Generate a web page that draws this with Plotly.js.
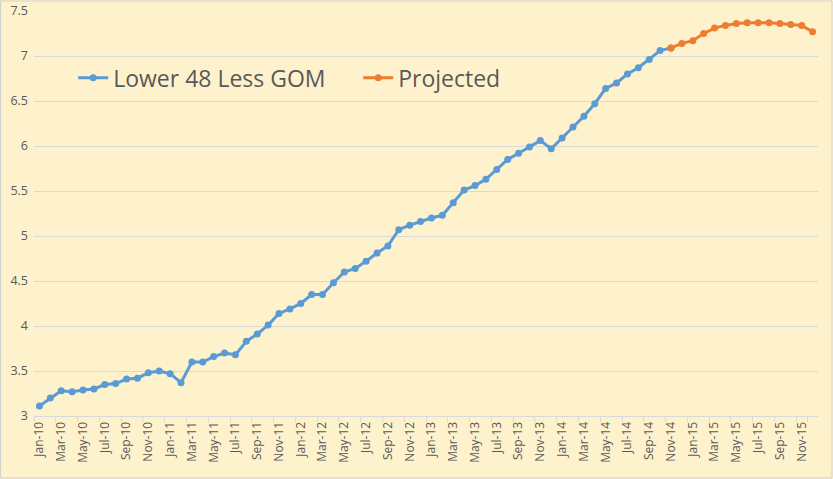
<!DOCTYPE html>
<html>
<head>
<meta charset="utf-8">
<script src="https://cdn.plot.ly/plotly-3.0.1.min.js"></script>
<style>
  body { margin: 0; background: #fef2cc; }
  #chart { width: 833px; height: 479px; }
</style>
</head>
<body>
<div id="chart"></div>
<script>
const monthNames = ['Jan', 'Feb', 'Mar', 'Apr', 'May', 'Jun', 'Jul', 'Aug', 'Sep', 'Oct', 'Nov', 'Dec'];
const years = ['10', '11', '12', '13', '14', '15'];

// month labels Jan-10 .. Dec-15
const months = [];
years.forEach(y => monthNames.forEach(m => months.push(m + '-' + y)));

// Lower 48 less GOM, Jan-10 .. Nov-14
const actual = [
  3.11, 3.20, 3.28, 3.27, 3.29, 3.30, 3.35, 3.36, 3.41, 3.42, 3.48, 3.50,
  3.47, 3.37, 3.60, 3.60, 3.66, 3.70, 3.68, 3.83, 3.91, 4.01, 4.14, 4.19,
  4.25, 4.35, 4.35, 4.48, 4.60, 4.64, 4.72, 4.81, 4.89, 5.07, 5.12, 5.16,
  5.20, 5.23, 5.37, 5.51, 5.56, 5.63, 5.74, 5.85, 5.92, 5.99, 6.06, 5.97,
  6.09, 6.21, 6.33, 6.47, 6.64, 6.70, 6.80, 6.87, 6.96, 7.06, 7.09
];

// Projected, Nov-14 .. Dec-15
const projected = [
  7.09, 7.14, 7.17, 7.25, 7.31, 7.34, 7.36, 7.37, 7.37, 7.37, 7.36, 7.35, 7.34, 7.27
];

const actualMonths = months.slice(0, actual.length);
const projectedMonths = months.slice(months.length - projected.length);
const tickMonths = months.filter((m, i) => i % 2 === 0);

const data = [
  {
    x: actualMonths,
    y: actual,
    type: 'scatter',
    mode: 'lines+markers',
    name: 'Lower 48 Less GOM',
    line: { color: '#5b9bd5', width: 3 },
    marker: { color: '#5b9bd5', size: 7 }
  },
  {
    x: projectedMonths,
    y: projected,
    type: 'scatter',
    mode: 'lines+markers',
    name: 'Projected',
    line: { color: '#ed7d31', width: 3 },
    marker: { color: '#ed7d31', size: 7 }
  }
];

const layout = {
  width: 833,
  height: 479,
  margin: { l: 34, r: 15, t: 11, b: 63 },
  paper_bgcolor: '#fef2cc',
  plot_bgcolor: '#fef2cc',
  font: { family: 'Open Sans, sans-serif', color: '#595959' },
  showlegend: true,
  legend: {
    orientation: 'h',
    x: 0.05,
    xanchor: 'left',
    y: 0.835,
    yanchor: 'middle',
    bgcolor: 'rgba(0,0,0,0)',
    font: { size: 23, color: '#595959' },
    itemwidth: 30,
    entrywidth: 240
  },
  xaxis: {
    type: 'category',
    categoryorder: 'array',
    categoryarray: months,
    range: [-0.5, months.length - 0.5],
    tickmode: 'array',
    tickvals: tickMonths,
    ticktext: tickMonths,
    tickangle: -90,
    tickson: 'boundaries',
    ticks: 'outside',
    ticklen: 5,
    tickcolor: '#d9d9d9',
    tickfont: { size: 12, color: '#595959' },
    showgrid: false,
    showline: true,
    linecolor: '#d9d9d9',
    zeroline: false
  },
  yaxis: {
    range: [3, 7.5],
    dtick: 0.5,
    tickfont: { size: 12.5, color: '#595959' },
    gridcolor: '#d9d9d9',
    showline: false,
    zeroline: false,
    ticks: '',
    ticklabelstandoff: 5
  },
  shapes: [
    {
      type: 'rect', xref: 'paper', yref: 'paper',
      x0: -34 / 784 + 0.0007, x1: 1 + 14 / 784,
      y0: -62 / 405, y1: 1 + 10 / 405,
      line: { color: '#d0d0d0', width: 1 }
    }
  ]
};

Plotly.newPlot('chart', data, layout, { displayModeBar: false, staticPlot: true });
</script>
</body>
</html>
